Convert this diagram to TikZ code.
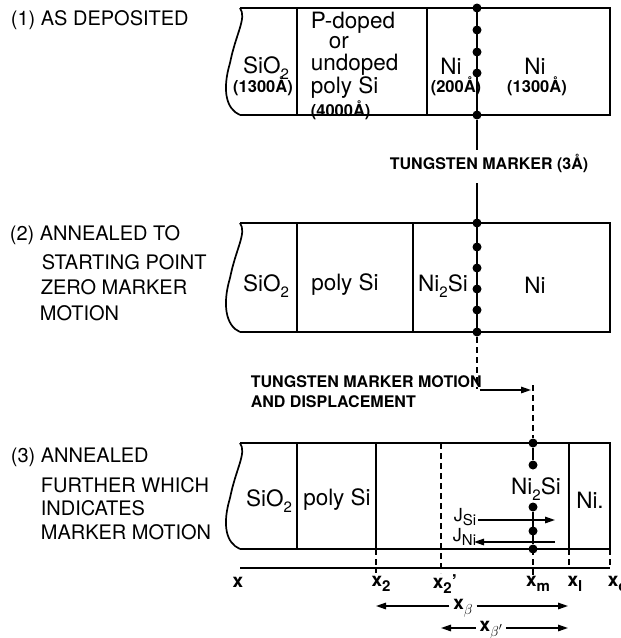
\documentclass[tikz,border=0pt]{standalone}
\usepackage{fontspec}
\setmainfont{TeX Gyre Heros}
\usetikzlibrary{arrows.meta}
\newcommand{\lowsub}[1]{\raisebox{-0.45ex}{\fontsize{15}{15}\selectfont #1}}
\newcommand{\leftwave}[2]{\draw (240,#1) .. controls (247,#1+10) and (236,#1+25) .. (230,#1+55) .. controls (222,#1+82) and (226,#2-6) .. (240,#2);}
\begin{document}
\begin{tikzpicture}[x=1pt,y=-1pt,line width=1.7pt,
  dotm/.style={circle,fill,inner sep=0pt,minimum size=9pt},
  lbl/.style={anchor=west,inner sep=0pt,font=\fontsize{20}{24}\selectfont},
  lay/.style={inner sep=0pt,font=\fontsize{22.5}{24}\selectfont},
  bsmall/.style={inner sep=0pt,font=\bfseries\fontsize{16.5}{18}\selectfont},
  capt/.style={inner sep=0pt,anchor=west,font=\bfseries\fontsize{16}{18}\selectfont},
  axl/.style={inner sep=0pt,font=\bfseries\fontsize{19}{20}\selectfont},
  jl/.style={inner sep=0pt,anchor=east,font=\fontsize{18}{18}\selectfont},
  arr/.style={-{Triangle[length=10pt,width=6.5pt]},line width=1.5pt},
  dline/.style={dash pattern=on 6pt off 4pt,line width=1.5pt}]
\useasboundingbox (0,0) rectangle (621,638);

% left labels
\node[lbl] (l1) at (10,20) {(1) AS DEPOSITED};
\node[lbl] (l2a) at (9,235) {(2) ANNEALED TO};
\node[lbl] (l2b) at (41,262) {STARTING POINT};
\node[lbl] (l2c) at (40,287) {ZERO MARKER};
\node[lbl] (l2d) at (39,313) {MOTION};
\node[lbl] (l3a) at (10,457) {(3) ANNEALED};
\node[lbl] (l3b) at (40,485) {FURTHER WHICH};
\node[lbl] (l3c) at (40,508) {INDICATES};
\node[lbl] (l3d) at (40,532) {MARKER MOTION};

% ---------- block 1 ----------
\draw (240,8) -- (610,8) -- (610,115) -- (240,115);
\leftwave{8}{115}
\draw (297,8) -- (297,115);
\draw (427,8) -- (427,115);
\coordinate (m1t) at (477,8);
\coordinate (m1b) at (477,115);
\draw (m1t) -- (m1b);
\foreach \yy/\nm in {8/a,30/b,52/c,73/d,115/e}
  \node[dotm] (d1\nm) at (477,\yy) {};
\node[lay] (s1) at (266,68) {SiO\lowsub{2}};
\node[bsmall] (s1t) at (263,86) {(1300Å)};
\node[lay,anchor=west] (p1a) at (310,23) {P-doped};
\node[lay,anchor=west] (p1b) at (328,43) {or};
\node[lay,anchor=west] (p1c) at (310,65) {undoped};
\node[lay,anchor=west] (p1d) at (310,88) {poly Si};
\node[bsmall,anchor=west] (p1e) at (310,110) {(4000Å)};
\node[lay] (n1a) at (451,66) {Ni};
\node[bsmall] (n1at) at (456,86) {(200Å)};
\node[lay] (n1b) at (535,66) {Ni};
\node[bsmall] (n1bt) at (537,86) {(1300Å)};

% tungsten marker label
\node[capt] (tm) at (389,163) {TUNGSTEN MARKER (3Å)};
\coordinate (g1) at (477,150);
\coordinate (g2) at (477,183);
\draw[line width=1.4pt] (d1e) -- (g1);

% ---------- block 2 ----------
\draw (240,223) -- (610,223) -- (610,332) -- (240,332);
\leftwave{223}{332}
\draw (297,223) -- (297,332);
\draw (413,223) -- (413,332);
\coordinate (m2t) at (477,223);
\coordinate (m2b) at (477,332);
\draw[line width=1.4pt] (g2) -- (m2t);
\draw (m2t) -- (m2b);
\foreach \yy/\nm in {223/a,247/b,268/c,289/d,310/e,332/f}
  \node[dotm] (d2\nm) at (477,\yy) {};
\node[lay] (s2) at (266,286) {SiO\lowsub{2}};
\node[lay] (p2) at (345,285) {poly Si};
\node[lay] (n2a) at (443,286) {Ni\lowsub{2}Si};
\node[lay] (n2b) at (535,285) {Ni};

% marker motion
\node[capt] (mm1) at (250,382) {TUNGSTEN MARKER MOTION};
\node[capt] (mm2) at (250,402) {AND DISPLACEMENT};
\coordinate (k1) at (477,389);
\coordinate (k2) at (480,390);
\coordinate (k3) at (531,390);
\coordinate (k4) at (533,385);
\draw[dline] (d2f) -- (k1);
\draw[arr] (k2) -- (k3);

% ---------- block 3 ----------
\draw (240,443) -- (610,443) -- (610,549) -- (240,549);
\leftwave{443}{549}
\draw (297,443) -- (297,549);
\draw (376,443) -- (376,549);
\draw (569,443) -- (569,549);
\foreach \yy/\nm in {443/a,465/b,507/c,531/d,549/e}
  \node[dotm] (d3\nm) at (533,\yy) {};
\draw[dline] (k4) -- (d3a);
\draw (d3a) -- (d3b);
\draw (d3c) -- (d3e);
\node[lay] (s3) at (269,501) {SiO\lowsub{2}};
\node[lay] (p3) at (337,500) {poly Si};
\node[lay] (n3a) at (536,489) {Ni\lowsub{2}Si};
\node[lay] (n3b) at (590,500) {Ni.};

% fluxes
\node[jl] (jsi) at (477,517) {J\lowsub{Si}};
\node[jl] (jni) at (477,537) {J\lowsub{Ni}};
\coordinate (fa) at (478,520);
\coordinate (fb) at (555,520);
\coordinate (fc) at (555,542);
\coordinate (fd) at (474,542);
\draw[arr] (fa) -- (fb);
\draw[arr] (fc) -- (fd);

% axis
\coordinate (ax0) at (240,568);
\coordinate (ax1) at (610,568);
\draw (ax0) -- (ax1);
\draw[dline] (376,549) -- (376,573);
\draw[dline] (441,443) -- (441,573);
\draw[dline] (533,549) -- (533,575);
\draw[dline] (569,549) -- (569,568);
\draw[dline] (610,549) -- (610,568);
\node[axl] (xx) at (238,582) {x};
\node[axl] (x2) at (381,584) {x\lowsub{2}};
\node[axl] (x2p) at (445,584) {x\lowsub{2}'};
\node[axl] (xm) at (538,584) {x\lowsub{m}};
\node[axl] (xl) at (575,584) {x\lowsub{l}};
\node[axl,anchor=west] (xo) at (607,584) {x\lowsub{o}};

% x_beta arrows
\node[axl,fill=white,inner sep=3pt] (xb) at (463,608) {x\lowsub{$\beta$}};
\node[axl,fill=white,inner sep=3pt] (xbp) at (491,630) {x\lowsub{$\beta'$}};
\coordinate (b1) at (376,606);
\coordinate (b2) at (568,606);
\coordinate (b3) at (441,628);
\coordinate (b4) at (568,628);
\draw[arr] (xb.west |- b1) -- (b1);
\draw[arr] (xb.east |- b2) -- (b2);
\draw[arr] (xbp.west |- b3) -- (b3);
\draw[arr] (xbp.east |- b4) -- (b4);
\end{tikzpicture}
\end{document}
